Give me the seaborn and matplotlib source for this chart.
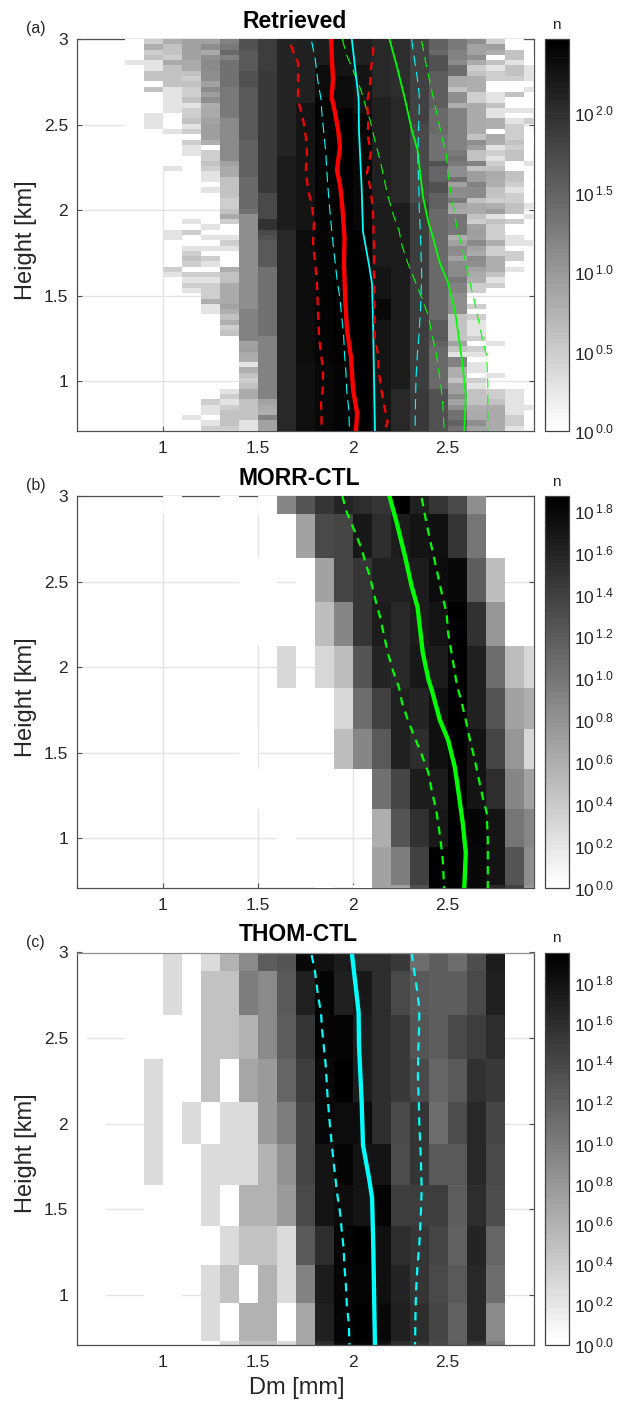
import numpy as np
import pandas as pd
import seaborn as sns
import matplotlib
matplotlib.use('Agg')
import matplotlib.pyplot as plt

sns.set_theme(style='ticks')
plt.rcParams['font.family'] = ['Liberation Sans', 'DejaVu Sans']
plt.rcParams['mathtext.fontset'] = 'custom'
plt.rcParams['mathtext.rm'] = 'Liberation Sans'
plt.rcParams['lines.scale_dashes'] = False

# Dm bins, shared by all three panels (first and last are cut by the axes)
dm_edges = [0.55, 0.6, 0.7, 0.8, 0.9, 1.0, 1.1, 1.2, 1.3, 1.4, 1.5, 1.6, 1.7, 1.8, 1.9,
            2.0, 2.1, 2.2, 2.3, 2.4, 2.5, 2.6, 2.7, 2.8, 2.9, 2.96]

# Retrieved counts: one list per Dm column, as (count, number of rows) from the top down
# 0 = no data, 1 = a single sample (white but it still hides the grid)
ret_080 = [(1, 4), (2, 1), (1, 16)]
ret_090 = [(3, 1), (6, 1), (3, 1), (4, 1), (2, 2), (4, 2), (1, 1), (4, 1), (1, 4), (2, 3), (1, 15)]
ret_100 = [(6, 1), (4, 1), (4, 1), (3, 1), (7, 1), (4, 3), (4, 1), (2, 5), (1, 3), (2, 1), (1, 6), (2, 1),
           (0, 11), (2, 2), (0, 5), (3, 1), (2, 1)]
ret_110 = [(8, 4), (7, 2), (4, 1), (3, 1), (4, 1), (3, 2), (4, 1), (2, 1), (3, 2), (4, 1), (2, 1), (3, 1),
           (1, 1), (3, 1), (2, 2), (0, 12), (2, 1), (0, 1), (3, 1), (0, 2), (2, 1), (3, 1), (4, 1), (3, 1),
           (0, 1), (3, 1), (2, 1), (3, 1), (2, 1), (0, 23), (2, 1)]
ret_120 = [(8, 1), (12, 1), (7, 1), (12, 1), (14, 2), (12, 2), (8, 1), (14, 1), (9, 1), (12, 1), (6, 1), (7, 2),
           (8, 1), (9, 3), (6, 1), (1, 1), (3, 2), (4, 1), (3, 1), (2, 2), (0, 1), (2, 1), (0, 6), (2, 1), (0, 1),
           (2, 1), (0, 1), (2, 1), (0, 1), (3, 1), (2, 1), (0, 1), (3, 1), (2, 1), (3, 3), (6, 1), (2, 2), (0, 16),
           (3, 1), (2, 2), (0, 1), (2, 1), (3, 1)]
ret_130 = [(17, 1), (20, 1), (28, 1), (17, 1), (23, 5), (20, 6), (14, 8), (8, 1), (7, 2), (4, 3), (4, 1), (3, 2),
           (4, 1), (7, 1), (3, 1), (0, 2), (2, 1), (3, 1), (2, 1), (0, 3), (6, 1), (4, 2), (7, 4), (8, 1), (6, 1),
           (4, 1), (6, 1), (3, 1), (4, 1), (0, 10), (2, 1), (3, 1), (2, 1), (3, 1), (4, 3), (3, 1)]
ret_140 = [(48, 2), (38, 4), (48, 3), (38, 10), (34, 7), (28, 6), (23, 1), (12, 18), (17, 6), (8, 1), (9, 1), (7, 1),
           (6, 1), (2, 1), (6, 1), (4, 1), (3, 1), (4, 1), (7, 2), (4, 4), (2, 2)]
ret_150 = [(71, 6), (81, 23), (59, 5), (100, 2), (59, 1), (48, 1), (38, 5), (23, 13), (16, 12), (8, 1), (7, 1), (6, 1),
           (17, 1), (8, 2)]
ret_160 = [(122, 22), (154, 14), (117, 18), (110, 20)]
ret_170 = [(139, 12), (184, 24), (212, 25), (199, 13)]
ret_180 = [(154, 5), (212, 6), (261, 25), (245, 25), (231, 13)]
ret_190 = [(184, 7), (215, 6), (269, 28), (277, 20), (245, 13)]
ret_200 = [(139, 5), (184, 9), (231, 22), (269, 15), (292, 23)]
ret_210 = [(117, 11), (139, 20), (154, 12), (184, 6), (231, 4), (184, 21)]
ret_220 = [(102, 11), (117, 20), (151, 35), (110, 8)]
ret_230 = [(66, 16), (59, 15), (71, 15), (75, 20), (81, 8)]
ret_240 = [(34, 2), (28, 1), (48, 3), (37, 7), (28, 5), (23, 5), (48, 1), (31, 3), (48, 2), (34, 3), (28, 21), (38, 4),
           (34, 1), (28, 8), (48, 8)]
ret_250 = [(20, 2), (17, 2), (14, 1), (25, 2), (7, 2), (4, 1), (12, 2), (6, 1), (16, 8), (20, 1), (23, 1), (20, 1),
           (13, 2), (23, 1), (8, 1), (14, 1), (12, 1), (20, 1), (8, 1), (7, 1), (21, 4), (6, 1), (8, 1), (14, 1),
           (12, 1), (8, 1), (14, 3), (20, 1), (17, 2), (12, 4), (4, 5), (8, 1), (4, 1), (2, 1), (17, 2), (6, 2),
           (4, 1), (8, 2), (14, 1), (8, 1), (12, 1), (23, 2), (34, 1), (23, 1)]
ret_260 = [(12, 1), (8, 2), (12, 1), (7, 1), (3, 1), (4, 1), (6, 3), (3, 2), (7, 6), (4, 1), (12, 1), (9, 1), (4, 2),
           (17, 1), (4, 1), (9, 2), (17, 1), (14, 2), (4, 1), (7, 2), (4, 1), (3, 1), (8, 1), (9, 1), (8, 1), (14, 1),
           (8, 1), (7, 1), (14, 1), (12, 1), (8, 1), (7, 1), (6, 1), (3, 2), (0, 2), (3, 1), (0, 1), (3, 1), (2, 3),
           (3, 1), (0, 1), (3, 1), (2, 1), (0, 1), (2, 2), (0, 1), (3, 1), (2, 1), (4, 3), (6, 1), (7, 2), (12, 1), (8, 1)]
ret_270 = [(3, 1), (9, 1), (6, 1), (1, 1), (4, 1), (2, 1), (3, 2), (1, 2), (2, 2), (4, 1), (2, 2), (6, 2), (1, 1),
           (7, 1), (6, 1), (2, 1), (3, 1), (2, 1), (3, 1), (4, 1), (7, 1), (6, 2), (4, 2), (3, 1), (6, 1), (9, 1),
           (2, 1), (4, 1), (3, 3), (6, 1), (3, 2), (6, 3), (4, 1), (2, 1), (3, 1), (0, 10), (2, 1), (0, 5), (2, 1),
           (0, 2), (3, 2), (4, 1), (7, 5)]
ret_280 = [(1, 2), (4, 2), (2, 1), (4, 2), (3, 1), (1, 2), (4, 1), (1, 2), (2, 1), (1, 1), (2, 1), (3, 3), (4, 1),
           (3, 1), (4, 2), (1, 2), (4, 2), (3, 1), (2, 1), (3, 2), (4, 2), (1, 1), (3, 1), (1, 2), (2, 2), (0, 1),
           (3, 2), (0, 1), (2, 1), (0, 22), (2, 5), (3, 2), (2, 1)]
ret_290 = [(0, 3), (1, 2), (2, 3), (0, 1), (2, 1), (1, 3), (2, 1), (0, 1), (3, 1), (0, 2), (1, 2), (0, 3), (2, 1),
           (0, 3), (1, 1), (0, 3), (2, 1), (0, 1), (2, 1), (0, 4), (2, 1), (0, 30), (2, 1)]

# MORR-CTL and THOM-CTL counts: top row first, one value per Dm bin
morr_rows = [
    [0, 0, 0, 0, 0, 1, 0, 0, 1, 0, 1, 8, 17, 29, 40, 35, 30, 70, 42, 29, 22, 7, 0, 0, 0],
    [0, 0, 0, 0, 0, 0, 0, 0, 0, 0, 0, 0, 5, 22, 23, 49, 35, 45, 52, 56, 29, 10, 0, 0, 0],
    [0, 0, 0, 0, 0, 0, 0, 0, 0, 1, 1, 0, 1, 5, 23, 29, 42, 42, 45, 60, 62, 15, 3, 0, 0],
    [0, 0, 0, 0, 0, 0, 0, 0, 0, 1, 1, 0, 0, 3, 8, 29, 45, 37, 45, 52, 70, 33, 6, 0, 0],
    [0, 0, 0, 0, 0, 0, 0, 0, 0, 0, 0, 2, 0, 2, 3, 17, 40, 37, 49, 45, 70, 42, 12, 3, 2],
    [0, 0, 0, 0, 0, 0, 0, 0, 0, 0, 0, 0, 0, 0, 2, 12, 25, 42, 40, 56, 74, 42, 17, 5, 4],
    [0, 0, 0, 0, 0, 0, 0, 0, 0, 1, 0, 0, 0, 0, 3, 8, 16, 42, 35, 56, 70, 52, 23, 6, 2],
    [0, 0, 0, 0, 0, 0, 0, 0, 0, 1, 1, 0, 0, 0, 0, 0, 11, 23, 45, 45, 70, 52, 35, 8, 5],
    [0, 0, 0, 0, 0, 0, 0, 0, 0, 0, 0, 1, 0, 0, 0, 0, 4, 17, 33, 49, 74, 65, 52, 10, 8],
    [0, 0, 0, 0, 0, 0, 0, 0, 0, 0, 0, 0, 0, 0, 0, 0, 5, 9, 25, 70, 74, 62, 52, 18, 7],
    [0, 0, 0, 0, 0, 0, 0, 0, 0, 0, 0, 0, 0, 1, 0, 1, 5, 5, 19, 70, 74, 62, 37, 25, 6],
]
thom_rows = [
    [1, 1, 1, 1, 1, 2, 1, 2, 4, 8, 17, 20, 75, 63, 53, 40, 40, 33, 13, 17, 13, 22, 53, 0, 0],
    [1, 1, 1, 1, 1, 2, 1, 3, 3, 10, 8, 19, 50, 80, 50, 58, 40, 25, 19, 17, 17, 25, 50, 0, 0],
    [1, 0, 0, 1, 1, 1, 1, 3, 3, 4, 8, 17, 34, 80, 82, 53, 40, 33, 20, 17, 25, 30, 40, 0, 0],
    [1, 1, 1, 1, 2, 1, 1, 3, 1, 5, 6, 15, 30, 75, 85, 53, 40, 33, 25, 15, 19, 38, 33, 0, 0],
    [1, 1, 0, 0, 2, 1, 2, 1, 2, 2, 6, 10, 27, 77, 69, 69, 40, 25, 35, 13, 23, 43, 27, 0, 0],
    [1, 1, 1, 1, 2, 1, 1, 2, 2, 2, 4, 7, 27, 61, 82, 61, 61, 23, 35, 19, 18, 43, 25, 0, 0],
    [1, 1, 0, 0, 1, 1, 1, 2, 1, 4, 4, 6, 25, 61, 69, 61, 82, 30, 30, 30, 17, 40, 23, 0, 0],
    [1, 1, 1, 1, 1, 1, 1, 1, 2, 3, 3, 2, 19, 40, 82, 85, 65, 40, 35, 27, 16, 47, 15, 0, 0],
    [1, 1, 0, 0, 1, 1, 0, 2, 3, 1, 4, 2, 9, 53, 82, 82, 65, 47, 35, 25, 19, 43, 13, 0, 0],
    [1, 1, 1, 1, 1, 1, 1, 2, 1, 4, 4, 1, 5, 50, 82, 89, 75, 50, 40, 27, 16, 43, 8, 0, 0],
    [1, 1, 1, 1, 1, 1, 1, 1, 2, 3, 3, 2, 5, 40, 75, 82, 65, 40, 35, 25, 17, 35, 10, 0, 0],
]
# the two model panels have coarser, uneven height bins
model_height_edges = [3.0, 2.893, 2.636, 2.379, 2.124, 1.879, 1.639, 1.405, 1.172, 0.95, 0.729, 0.71]

# Dm statistics against height
ret_h = [3.0, 2.877, 2.76, 2.66, 2.57, 2.47, 2.37, 2.235, 2.147, 2.04, 1.84, 1.69, 1.49, 1.30, 1.14, 0.95, 0.815, 0.71]
ret_mid = [1.887, 1.892, 1.897, 1.89, 1.908, 1.924, 1.934, 1.918, 1.934, 1.945, 1.958, 1.955, 1.961, 1.971, 1.992,
           2.003, 2.024, 2.018]
ret_lo_h = [2.965, 2.93, 2.86, 2.76, 2.644, 2.544, 2.427, 2.334, 2.235, 2.118, 2.02, 1.925, 1.81, 1.69, 1.575, 1.40,
            1.26, 1.166, 1.066, 0.95, 0.874, 0.71]
ret_lo = [1.675, 1.687, 1.713, 1.713, 1.713, 1.738, 1.754, 1.76, 1.754, 1.766, 1.787, 1.797, 1.792, 1.803, 1.813,
          1.818, 1.824, 1.833, 1.845, 1.843, 1.834, 1.838]
ret_hi_h = [2.953, 2.918, 2.82, 2.73, 2.626, 2.544, 2.427, 2.334, 2.217, 2.118, 1.984, 1.785, 1.49, 1.26, 1.166, 1.05,
            0.932, 0.833, 0.763, 0.71]
ret_hi = [2.109, 2.108, 2.096, 2.092, 2.076, 2.082, 2.082, 2.096, 2.076, 2.096, 2.108, 2.113, 2.113, 2.116, 2.133,
          2.139, 2.154, 2.171, 2.185, 2.166]

morr_h = [3.0, 2.842, 2.644, 2.468, 2.352, 2.217, 2.083, 1.925, 1.867, 1.69, 1.575, 1.417, 1.283, 1.09, 0.915, 0.71]
morr_mid = [2.194, 2.233, 2.277, 2.312, 2.342, 2.356, 2.37, 2.40, 2.417, 2.46, 2.503, 2.538, 2.556, 2.58, 2.596, 2.588]
morr_lo_h = [3.0, 2.907, 2.813, 2.70, 2.60, 2.527, 2.404, 2.293, 2.20, 2.083, 1.972, 1.88, 1.79, 1.685, 1.585, 1.48,
             1.383, 1.278, 1.167, 1.08, 0.963, 0.87, 0.71]
morr_lo = [1.946, 1.969, 2.004, 2.045, 2.071, 2.092, 2.118, 2.145, 2.163, 2.186, 2.215, 2.245, 2.261, 2.293, 2.329,
           2.367, 2.399, 2.417, 2.44, 2.452, 2.466, 2.475, 2.482]
morr_hi_h = [2.988, 2.86, 2.743, 2.638, 2.527, 2.41, 2.317, 2.2, 2.025, 1.886, 1.81, 1.69, 1.575, 1.47, 1.36, 1.24,
             1.15, 0.99, 0.71]
morr_hi = [2.364, 2.386, 2.408, 2.429, 2.451, 2.474, 2.495, 2.503, 2.53, 2.551, 2.571, 2.596, 2.618, 2.641, 2.662,
           2.685, 2.706, 2.712, 2.712]

thom_h = [3.0, 2.75, 2.65, 2.46, 2.13, 1.875, 1.68, 1.566, 1.29, 0.71]
thom_mid = [1.996, 2.022, 2.032, 2.034, 2.048, 2.055, 2.087, 2.103, 2.109, 2.118]
thom_lo_h = [2.985, 2.886, 2.75, 2.65, 2.56, 2.44, 2.34, 2.17, 2.03, 1.875, 1.70, 1.584, 1.484, 1.367, 1.273, 1.157,
             1.06, 0.94, 0.84, 0.71]
thom_lo = [1.785, 1.803, 1.818, 1.834, 1.839, 1.85, 1.859, 1.868, 1.878, 1.891, 1.908, 1.92, 1.934, 1.944, 1.953,
           1.958, 1.965, 1.97, 1.98, 1.984]
thom_hi_h = [2.998, 2.886, 2.77, 2.676, 2.58, 2.42, 2.27, 2.13, 2.01, 1.84, 1.62, 1.43, 1.27, 1.157, 1.017, 0.866, 0.71]
thom_hi = [2.311, 2.325, 2.341, 2.351, 2.351, 2.346, 2.344, 2.349, 2.351, 2.358, 2.364, 2.358, 2.35, 2.341, 2.334,
           2.331, 2.329]

titles = ['Retrieved', 'MORR-CTL', 'THOM-CTL']
panel_tags = ['(a)', '(b)', '(c)']
log_max = [2.465, 1.87, 1.95]
cbar_ticks = [[0, 0.5, 1.0, 1.5, 2.0],
              [0, 0.2, 0.4, 0.6, 0.8, 1.0, 1.2, 1.4, 1.6, 1.8],
              [0, 0.2, 0.4, 0.6, 0.8, 1.0, 1.2, 1.4, 1.6, 1.8]]


def expand(runs, nrows=74):
    out = []
    for n, k in runs:
        out += [n] * k
    out = out + [0] * (nrows - len(out))
    return out[:nrows]


def long_table(rows, height_edges):
    # rows run top to bottom, columns follow dm_edges
    dm_mid = (np.array(dm_edges[:-1]) + np.array(dm_edges[1:])) / 2
    h = np.array(height_edges)
    h_mid = (h[:-1] + h[1:]) / 2
    recs = []
    for i, row in enumerate(rows):
        for j, n in enumerate(row):
            # log count is what gets coloured; a tiny value keeps n=1 from being masked
            recs.append((dm_mid[j], h_mid[i], max(np.log10(n), 0.001) if n > 0 else 0))
    return pd.DataFrame(recs, columns=['dm', 'height', 'logn'])


ret_cols = [[], [], [], ret_080, ret_090, ret_100, ret_110, ret_120, ret_130, ret_140, ret_150, ret_160, ret_170,
            ret_180, ret_190, ret_200, ret_210, ret_220, ret_230, ret_240, ret_250, ret_260, ret_270, ret_280, ret_290]
ret_rows = np.array([expand(c) for c in ret_cols]).T
ret_height_edges = np.linspace(3.0, 0.71, 75)

tables = [long_table(ret_rows, ret_height_edges),
          long_table(morr_rows, model_height_edges),
          long_table(thom_rows, model_height_edges)]
height_bins = [ret_height_edges, model_height_edges, model_height_edges]

W, H = 627, 1401
fig = plt.figure(figsize=(W / 100, H / 100), dpi=100)
tops = [39, 496, 952.5]
axh = 392
title_x = [0.477, 0.486, 0.484]
dark = '#505050'
text_col = '#262626'
cmap = plt.get_cmap('gray_r', 64)


def draw_line(ax, x, y, color, lw, dashes=None):
    ls = (0, dashes) if dashes else '-'
    sns.lineplot(x=x, y=y, sort=False, estimator=None, color=color, linewidth=lw, linestyle=ls, ax=ax)


thin_dash = (7.4, 4.4)
wide_dash = (6.0, 4.8)

for i in range(3):
    ax = fig.add_axes([77 / W, 1 - (tops[i] + axh) / H, 457 / W, axh / H])
    sns.histplot(data=tables[i], x='dm', y='height', weights='logn',
                 bins=(np.array(dm_edges), np.sort(np.array(height_bins[i]))),
                 cmap=cmap, thresh=0, ax=ax)
    mesh = ax.collections[-1]
    mesh.set_clim(0, log_max[i])
    mesh.set_zorder(1.5)

    ax.set_xlim(0.55, 2.955)
    ax.set_ylim(0.71, 3)
    ax.set_xticks([1, 1.5, 2, 2.5], ['1', '1.5', '2', '2.5'])
    ax.set_yticks([1, 1.5, 2, 2.5, 3], ['1', '1.5', '2', '2.5', '3'])
    ax.grid(True, color='#e4e4e4', linewidth=1.0, zorder=0.5)
    ax.set_axisbelow(True)
    ax.tick_params(direction='in', length=3.5, width=0.8, color=dark, top=True, right=True,
                   labelsize=12.5, labelcolor=text_col)
    ax.tick_params(axis='y', pad=6.5)
    ax.tick_params(axis='x', pad=7.5)
    for s in ax.spines.values():
        s.set_color(dark)
        s.set_linewidth(0.9)
        s.set_zorder(1.2)
    # left edge is never covered by the cells, in (c) the frame stays visible all round
    ax.spines['left'].set_zorder(3)
    if i == 2:
        ax.spines['bottom'].set_zorder(3)
        ax.spines['top'].set_zorder(3)
        ax.spines['top'].set_color('#909090')
    ax.set_ylabel('Height [km]', fontsize=17, color=text_col, va='center')
    ax.yaxis.set_label_coords(-0.112, 0.487)
    if i == 2:
        ax.set_xlabel('Dm [mm]', fontsize=17, color=text_col, va='center')
        ax.xaxis.set_label_coords(0.481, -0.11)
    else:
        ax.set_xlabel('')
    ax.set_title(titles[i], fontsize=16.5, fontweight='bold', x=title_x[i], pad=8, color='black')
    fig.text(26 / W, 1 - (tops[i] - 10) / H, panel_tags[i], fontsize=11.5, color=text_col, va='center')

    if i == 0:
        # all three data sets on the retrieved panel, models thin
        draw_line(ax, morr_mid, morr_h, '#00ff00', 1.3)
        draw_line(ax, morr_lo, morr_lo_h, '#00ff00', 0.8, thin_dash)
        draw_line(ax, morr_hi, morr_hi_h, '#00ff00', 0.8, thin_dash)
        draw_line(ax, thom_mid, thom_h, '#00ffff', 1.3)
        draw_line(ax, thom_lo, thom_lo_h, '#00ffff', 0.8, thin_dash)
        draw_line(ax, thom_hi, thom_hi_h, '#00ffff', 0.8, thin_dash)
        draw_line(ax, ret_mid, ret_h, '#ff0000', 3.1)
        draw_line(ax, ret_lo, ret_lo_h, '#ff0000', 1.6, wide_dash)
        draw_line(ax, ret_hi, ret_hi_h, '#ff0000', 1.6, wide_dash)
    elif i == 1:
        draw_line(ax, morr_mid, morr_h, '#00ff00', 3.1)
        draw_line(ax, morr_lo, morr_lo_h, '#00ff00', 1.6, wide_dash)
        draw_line(ax, morr_hi, morr_hi_h, '#00ff00', 1.6, wide_dash)
    else:
        draw_line(ax, thom_mid, thom_h, '#00ffff', 3.1)
        draw_line(ax, thom_lo, thom_lo_h, '#00ffff', 1.6, wide_dash)
        draw_line(ax, thom_hi, thom_hi_h, '#00ffff', 1.6, wide_dash)

    cax = fig.add_axes([545 / W, 1 - (tops[i] + axh) / H, 24 / W, axh / H])
    cb = fig.colorbar(mesh, cax=cax)
    cb.set_ticks(cbar_ticks[i])
    cb.set_ticklabels([r'$\mathregular{10^{\,%.1f}}$' % t for t in cbar_ticks[i]])
    cb.ax.tick_params(direction='in', length=3, width=0.7, color=dark, labelsize=12.5,
                      labelcolor=text_col, pad=3.5)
    cb.outline.set_edgecolor('#404040')
    cb.outline.set_linewidth(0.9)
    fig.text(556 / W, 1 - (tops[i] - 14) / H, 'n', fontsize=11, color=text_col, ha='center', va='center')

fig.savefig('out.png', dpi=100)
